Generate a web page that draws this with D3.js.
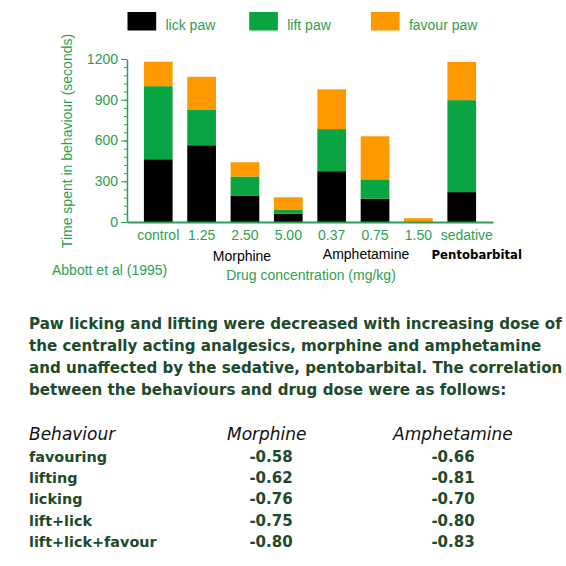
<!DOCTYPE html>
<html lang="en">

<head>
  <meta charset="UTF-8">
  <title>Paw behaviour vs drug dose</title>
  <script src="https://d3js.org/d3.v7.min.js"></script>
  <style>
    body {
      margin: 0;
      background: #ffffff;
    }

    .chart text {
      font-family: "Liberation Sans", Arial, sans-serif;
      font-size: 14px;
      fill: #2f9e50;
    }

    .axis path,
    .axis line {
      stroke: #2f9e50;
    }

    .note {
      font-family: "DejaVu Sans", sans-serif;
      font-weight: bold;
      font-size: 15px;
      fill: #1d4a2b;
    }

    .beh {
      font-size: 14.4px;
    }

    .head {
      font-family: "DejaVu Sans", sans-serif;
      font-style: italic;
      font-size: 17px;
      fill: #111111;
    }
  </style>
</head>

<body>
  <svg width="566" height="566"></svg>
  <script>
    // data
    const categories = ["control", "1.25", "2.50", "5.00", "0.37", "0.75", "1.50", "sedative"];
    const lickPaw = [462, 565, 192, 60, 374, 172, 0, 220];
    const liftPaw = [538, 260, 143, 32, 310, 142, 0, 677];
    const favourPaw = [180, 244, 105, 90, 293, 317, 28, 281];
    const seriesNames = ["lick paw", "lift paw", "favour paw"];
    const seriesColors = ["#000000", "#0aa443", "#ff9900"];
    const yTicks = [0, 300, 600, 900, 1200];
    const drugNames = ["Morphine", "Amphetamine", "Pentobarbital"];

    const noteLines = [
      "Paw licking and lifting were decreased with increasing dose of",
      "the centrally acting analgesics, morphine and amphetamine",
      "and unaffected by the sedative, pentobarbital. The correlation",
      "between the behaviours and drug dose were as follows:"
    ];
    const tableHead = ["Behaviour", "Morphine", "Amphetamine"];
    const behaviours = ["favouring", "lifting", "licking", "lift+lick", "lift+lick+favour"];
    const morphineR = ["-0.58", "-0.62", "-0.76", "-0.75", "-0.80"];
    const amphetamineR = ["-0.66", "-0.81", "-0.70", "-0.80", "-0.83"];

    const svg = d3.select("svg");
    const chart = svg.append("g").attr("class", "chart");

    const rows = categories.map((c, i) => ({
      cat: c, lick: lickPaw[i], lift: liftPaw[i], favour: favourPaw[i]
    }));
    const stack = d3.stack().keys(["lick", "lift", "favour"]);
    const layers = stack(rows);

    const x = d3.scaleBand()
      .domain(categories)
      .range([127, 493])
      .paddingInner(0.338)
      .paddingOuter(0.39);

    const y = d3.scaleLinear()
      .domain([0, 1200])
      .range([222, 59]);

    // bars
    chart.selectAll("g.layer")
      .data(layers)
      .enter()
      .append("g")
      .attr("class", "layer")
      .attr("fill", (d, i) => seriesColors[i])
      .selectAll("rect")
      .data(d => d)
      .enter()
      .append("rect")
      .attr("x", d => x(d.data.cat))
      .attr("width", x.bandwidth())
      .attr("y", d => y(d[1]))
      .attr("height", d => y(d[0]) - y(d[1]));

    // minor ticks on y
    chart.append("g")
      .attr("class", "axis")
      .attr("transform", "translate(127,0)")
      .call(d3.axisLeft(y).tickValues(d3.range(0, 1201, 60)).tickSize(3).tickFormat(""))
      .call(g => g.select(".domain").remove());

    // y axis
    const yAxis = chart.append("g")
      .attr("class", "axis")
      .attr("transform", "translate(127,0)")
      .call(d3.axisLeft(y).tickValues(yTicks).tickFormat(d3.format("d"))
        .tickSize(6).tickSizeOuter(0).tickPadding(3));
    yAxis.select(".domain").attr("stroke-width", 1.5);

    // x axis
    const xAxis = chart.append("g")
      .attr("class", "axis")
      .attr("transform", "translate(0,222)")
      .call(d3.axisBottom(x).tickSize(0).tickPadding(8));
    xAxis.select(".domain").attr("stroke-width", 2);
    xAxis.selectAll(".tick text").attr("dx", d => d === "sedative" ? 5 : 0);
    chart.selectAll(".axis").attr("font-family", null).attr("font-size", null);

    // y title
    chart.append("text")
      .attr("transform", "translate(72,141) rotate(-90)")
      .attr("text-anchor", "middle")
      .text("Time spent in behaviour (seconds)");

    // legend
    const legend = chart.selectAll("g.legend")
      .data(seriesNames)
      .enter()
      .append("g")
      .attr("class", "legend")
      .attr("transform", (d, i) => `translate(${127.5 + i * 121.7},12)`);
    legend.append("rect")
      .attr("width", 28.7)
      .attr("height", 18.5)
      .attr("fill", (d, i) => seriesColors[i]);
    legend.append("text")
      .attr("x", 38)
      .attr("y", 17.5)
      .text(d => d);

    // drug group names
    const drugX = [x("2.50") + x.bandwidth() / 2 - 3, x("0.75") + x.bandwidth() / 2 - 9, x("sedative") + x.bandwidth() / 2 + 15];
    chart.selectAll("text.drug")
      .data(drugNames)
      .enter()
      .append("text")
      .attr("class", "drug")
      .attr("x", (d, i) => drugX[i])
      .attr("y", (d, i) => i === 0 ? 261 : 259)
      .attr("text-anchor", "middle")
      .style("fill", "#000000")
      .style("font-family", (d, i) => i === 2 ? '"DejaVu Sans Condensed", "DejaVu Sans", sans-serif' : null)
      .style("font-weight", (d, i) => i === 2 ? "bold" : null)
      .style("font-size", (d, i) => i === 2 ? "13px" : null)
      .text(d => d);

    chart.append("text")
      .attr("x", 52)
      .attr("y", 275)
      .text("Abbott et al (1995)");

    chart.append("text")
      .attr("x", 311)
      .attr("y", 280)
      .attr("text-anchor", "middle")
      .text("Drug concentration (mg/kg)");

    // paragraph
    const note = svg.selectAll("text.note-line")
      .data(noteLines)
      .enter()
      .append("text")
      .attr("class", "note note-line")
      .attr("x", 29)
      .attr("y", (d, i) => 329 + i * 22)
      .text(d => d);
    // fit the first line to the width seen in the picture
    const w0 = note.node().getComputedTextLength();
    note.style("font-size", (15 * 533 / w0).toFixed(2) + "px");

    // table
    const colX = [29, 227, 393];
    svg.selectAll("text.head")
      .data(tableHead)
      .enter()
      .append("text")
      .attr("class", "head")
      .attr("x", (d, i) => colX[i])
      .attr("y", 440)
      .text(d => d);

    const rowY = i => 461.5 + i * 21.4;
    svg.selectAll("text.beh")
      .data(behaviours)
      .enter()
      .append("text")
      .attr("class", "note beh")
      .attr("x", 29)
      .attr("y", (d, i) => rowY(i))
      .text(d => d);

    svg.selectAll("text.mor")
      .data(morphineR)
      .enter()
      .append("text")
      .attr("class", "note mor")
      .attr("x", 271)
      .attr("y", (d, i) => rowY(i))
      .attr("text-anchor", "middle")
      .text(d => d);

    svg.selectAll("text.amp")
      .data(amphetamineR)
      .enter()
      .append("text")
      .attr("class", "note amp")
      .attr("x", 453)
      .attr("y", (d, i) => rowY(i))
      .attr("text-anchor", "middle")
      .text(d => d);
  </script>
</body>

</html>
